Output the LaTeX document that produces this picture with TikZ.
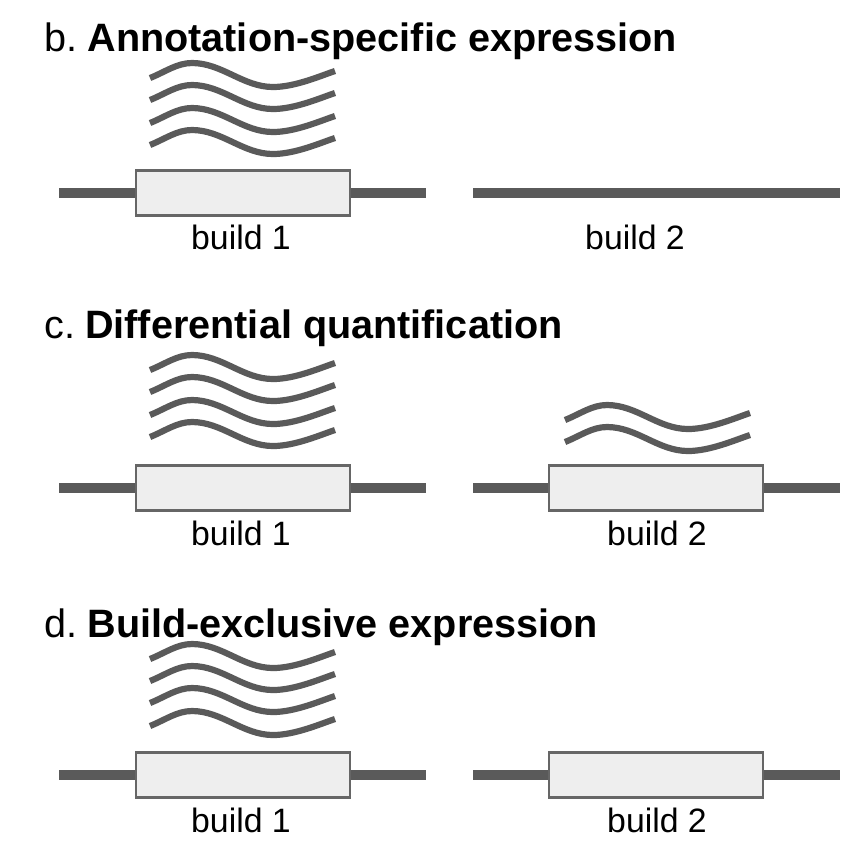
\documentclass[tikz,border=0pt]{standalone}
\usepackage{fontspec}
\setmainfont{Liberation Sans}
\definecolor{genegray}{RGB}{90,90,90}
\definecolor{edgegray}{RGB}{102,102,102}
\definecolor{boxgray}{RGB}{238,238,238}

\tikzset{
  locus/.style={line width=4.6pt, genegray},
  readline/.style={line width=3.1pt, genegray},
  exonbox/.style={draw=edgegray, line width=1.2pt, fill=boxgray,
    minimum width=107pt, minimum height=22.5pt, inner sep=0pt},
  buildlabel/.style={font=\fontsize{16.9}{20}\selectfont, anchor=base, inner sep=0pt},
  paneltitle/.style={font=\fontsize{19.8}{24}\selectfont, anchor=base west, inner sep=0pt}
}

% one expressed read, drawn from its left end
\newcommand{\readwave}[2]{%
  \draw[readline] (#1,#2) .. controls +(15,-6) and +(-15,0) .. ++(42,-15)
    .. controls +(30,0) and +(-30,0) .. ++(81,24)
    .. controls +(22,0) and +(-15,5) .. ++(62,-16);}

\begin{document}
\begin{tikzpicture}[x=0.5pt, y=-0.5pt]
  \useasboundingbox (0,0) rectangle (866,864);

  % b. Annotation-specific expression
  \node[paneltitle] (titleb) at (44,51) {b.\hspace{5pt}\textbf{Annotation-specific expression}};
  \foreach \y in {78,100,123,145} \readwave{150}{\y};
  \coordinate (bLw) at (59,193);
  \coordinate (bLe) at (426,193);
  \node[exonbox] (bLbox) at (243,193) {};
  \draw[locus] (bLw) -- (bLbox.west);
  \draw[locus] (bLbox.east) -- (bLe);
  \node[buildlabel] (bLlab) at (241,249) {build 1};
  \coordinate (bRw) at (473,193);
  \coordinate (bRe) at (840,193);
  \draw[locus] (bRw) -- (bRe);
  \node[buildlabel] (bRlab) at (635,249) {build 2};

  % c. Differential quantification
  \node[paneltitle] (titlec) at (44,338) {c.\hspace{5pt}\textbf{Differential quantification}};
  \foreach \y in {370,392,415,437} \readwave{150}{\y};
  \coordinate (cLw) at (59,488);
  \coordinate (cLe) at (426,488);
  \node[exonbox] (cLbox) at (243,488) {};
  \draw[locus] (cLw) -- (cLbox.west);
  \draw[locus] (cLbox.east) -- (cLe);
  \node[buildlabel] (cLlab) at (241,545) {build 1};
  \foreach \y in {420,442} \readwave{565}{\y};
  \coordinate (cRw) at (473,488);
  \coordinate (cRe) at (840,488);
  \node[exonbox] (cRbox) at (656,488) {};
  \draw[locus] (cRw) -- (cRbox.west);
  \draw[locus] (cRbox.east) -- (cRe);
  \node[buildlabel] (cRlab) at (657,545) {build 2};

  % d. Build-exclusive expression
  \node[paneltitle] (titled) at (44,637) {d.\hspace{5pt}\textbf{Build-exclusive expression}};
  \foreach \y in {659,681,703,726} \readwave{150}{\y};
  \coordinate (dLw) at (59,775);
  \coordinate (dLe) at (426,775);
  \node[exonbox] (dLbox) at (243,775) {};
  \draw[locus] (dLw) -- (dLbox.west);
  \draw[locus] (dLbox.east) -- (dLe);
  \node[buildlabel] (dLlab) at (241,832) {build 1};
  \coordinate (dRw) at (473,775);
  \coordinate (dRe) at (840,775);
  \node[exonbox] (dRbox) at (656,775) {};
  \draw[locus] (dRw) -- (dRbox.west);
  \draw[locus] (dRbox.east) -- (dRe);
  \node[buildlabel] (dRlab) at (657,832) {build 2};
\end{tikzpicture}
\end{document}
